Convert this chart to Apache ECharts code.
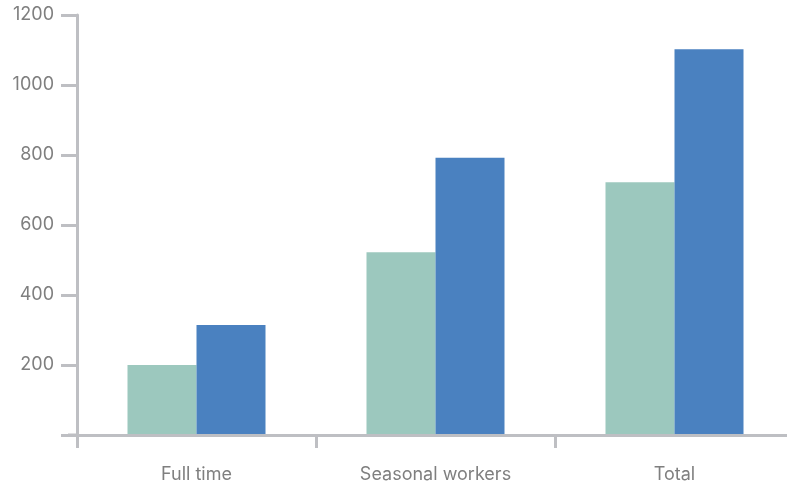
<!DOCTYPE html>
<html>
<head>
<meta charset="utf-8">
<script src="https://cdn.jsdelivr.net/npm/echarts@6/dist/echarts.min.js"></script>
<style>
  html, body { margin: 0; padding: 0; background: #fff; }
  #chart { width: 787px; height: 482px; }
</style>
</head>
<body>
<div id="chart"></div>
<script>
var categories = ['Full time', 'Seasonal workers', 'Total'];
var seriesA = [200, 522, 722];
var seriesB = [314, 792, 1102];
var yTicks = [0, 200, 400, 600, 800, 1000, 1200];

var axisGrey = '#BEBFC3';
var labelGrey = '#7F7F7F';
var font = 'Inter, "Noto Sans", sans-serif';

var chart = echarts.init(document.getElementById('chart'));
var option = {
    animation: false
    , grid: {
        left: 77
        , top: 15
        , bottom: 47
        , right: -7
        , outerBoundsMode: 'none'
        , containLabel: false
    }
    , xAxis: {
        type: 'category'
        , data: categories
        , boundaryGap: true
        , axisLine: { show: true, lineStyle: { color: axisGrey, width: 3 } }
        , axisTick: { show: true, length: 13, lineStyle: { color: axisGrey, width: 3 } }
        , axisLabel: { color: labelGrey, fontSize: 18, fontFamily: font, margin: 31 }
        , z: 5
    }
    , yAxis: {
        type: 'value'
        , min: yTicks[0]
        , max: yTicks[yTicks.length - 1]
        , interval: 200
        , axisLine: { show: true, lineStyle: { color: axisGrey, width: 3 } }
        , axisTick: { show: true, length: 16, lineStyle: { color: axisGrey, width: 3 } }
        , axisLabel: {
            color: labelGrey, fontSize: 18, fontFamily: font, margin: 23
            , formatter: function (v) { return v === 0 ? '' : String(v); }
        }
        , splitLine: { show: false }
        , z: 5
    }
    , series: [
        {
            type: 'bar'
            , data: seriesA
            , barWidth: 69
            , barGap: '0%'
            , itemStyle: { color: '#9CC8BE' }
        }
        , {
            type: 'bar'
            , data: seriesB
            , barWidth: 69
            , barGap: '0%'
            , itemStyle: { color: '#4A81C0' }
        }
    ]
    , graphic: [
        {
            type: 'line'
            , shape: { x1: 68, y1: 435, x2: 78, y2: 435 }
            , style: { stroke: axisGrey, lineWidth: 3 }
            , z: 10
        }
    ]
};
chart.setOption(option);
</script>
</body>
</html>
